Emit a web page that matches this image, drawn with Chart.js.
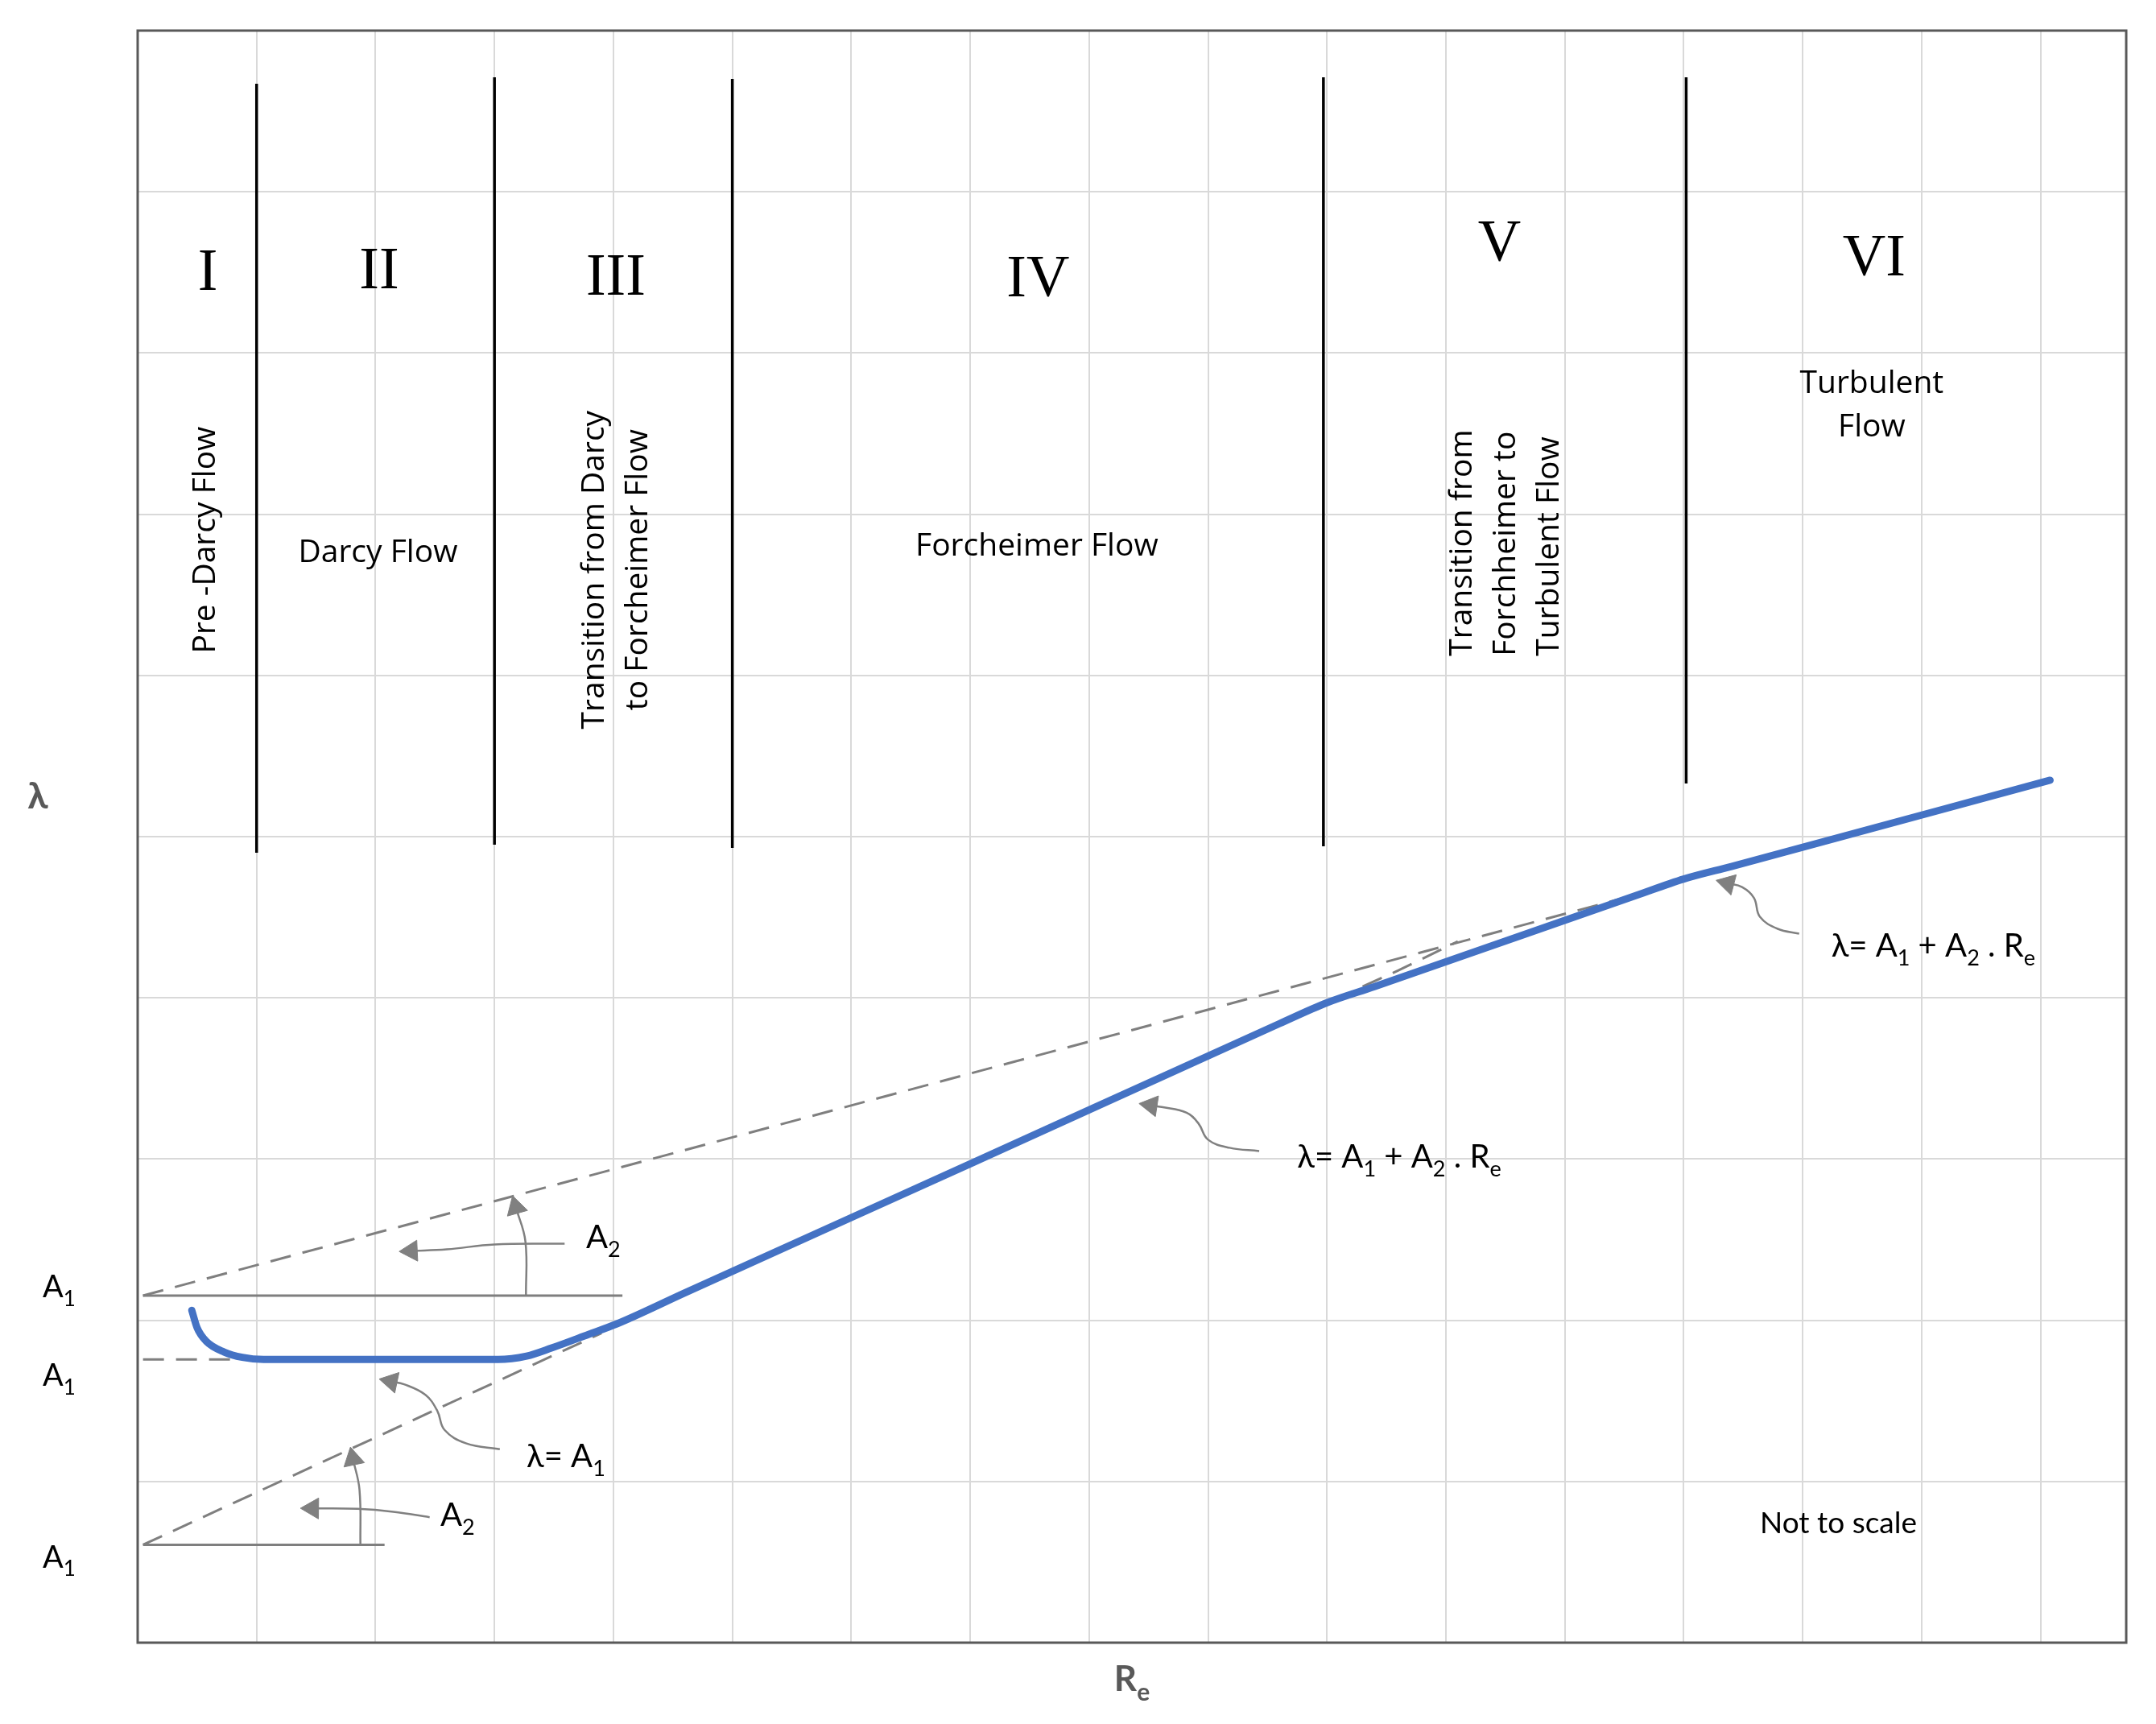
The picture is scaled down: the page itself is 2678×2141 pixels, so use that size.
<!DOCTYPE html>
<html>
<head>
<meta charset="utf-8">
<title>Flow regimes</title>
<script src="https://cdn.jsdelivr.net/npm/chart.js@4.4.1/dist/chart.umd.min.js"></script>
<style>
  html, body { margin: 0; padding: 0; background: #fff; }
  #wrap { width: 2678px; height: 2141px; }
</style>
</head>
<body>
<div id="wrap"><canvas id="regimeChart"></canvas></div>
<script>
// grid positions (no tick labels, the diagram is not to scale)
var xGrid = [0, 1, 2, 3, 4, 5, 6, 7, 8, 9, 10, 11, 12, 13, 14, 15, 16];
var yGrid = [0, 1, 2, 3, 4, 5, 6, 7, 8, 9, 10];
var xMax = 16.72;
var yMax = 10;

// lambda vs Re curve
var reValues     = [0.455, 0.50, 0.576, 0.727, 0.88, 1.06, 2.0, 3.03, 3.27, 3.48, 3.79, 4.03, 4.6, 7.03, 9.6, 10.0, 10.4, 12.6, 13.0, 13.4, 16.08];
var lambdaValues = [2.062, 1.953, 1.87, 1.803, 1.77, 1.757, 1.757, 1.757, 1.778, 1.828, 1.912, 1.978, 2.17, 2.98, 3.84, 3.97, 4.07, 4.635, 4.737, 4.815, 5.35];

// construction lines
var turbExtX = [0.045, 12.6],  turbExtY = [2.153, 4.64];
var forchExtX = [0.045, 3.9],  forchExtY = [0.607, 1.92];
var darcyDashX = [0.045, 0.85], darcyDashY = [1.757, 1.757];
var transDashX = [10.3, 10.6, 11.1], transDashY = [4.07, 4.17, 4.35];
var upperBaseX = [0.045, 4.076], upperBaseY = [2.153, 2.153];
var lowerBaseX = [0.045, 2.076], lowerBaseY = [0.607, 0.607];

// regime dividers
var dividerX      = [1.0, 3.0, 5.0, 9.97, 13.02];
var dividerBottom = [4.90, 4.95, 4.93, 4.94, 5.33];
var dividerTop    = [9.67, 9.71, 9.70, 9.71, 9.71];

// pointer arrows (tail first, head last)
var arrowA2UpperVert = [[3.265, 2.153], [3.26, 2.49], [3.18, 2.70]];
var arrowA2UpperHorz = [[3.59, 2.475], [3.0, 2.47], [2.6, 2.44], [2.30, 2.43]];
var arrowA2LowerVert = [[1.873, 0.607], [1.865, 0.95], [1.81, 1.14]];
var arrowA2LowerHorz = [[2.455, 0.778], [2.15, 0.812], [1.85, 0.83], [1.47, 0.833]];
var arrowDarcy       = [[3.045, 1.20], [2.76, 1.237], [2.58, 1.32], [2.52, 1.437], [2.42, 1.537], [2.24, 1.603], [2.13, 1.62]];
var arrowForch       = [[9.43, 3.05], [9.18, 3.07], [9.0, 3.12], [8.92, 3.22], [8.82, 3.287], [8.61, 3.323], [8.52, 3.333]];
var arrowTurb        = [[13.97, 4.398], [13.79, 4.428], [13.64, 4.503], [13.59, 4.62], [13.49, 4.687], [13.37, 4.71]];

// texts
var romanLabels = ['I', 'II', 'III', 'IV', 'V', 'VI'];
var regionNames = [
  ['Pre -Darcy Flow'],
  ['Darcy Flow'],
  ['Transition from Darcy', 'to Forcheimer Flow'],
  ['Forcheimer Flow'],
  ['Transition from', 'Forchheimer to', 'Turbulent Flow'],
  ['Turbulent', 'Flow']
];
var eqRuns = [['λ= A', 0], ['1', 1], [' + A', 0], ['2', 1], [' . R', 0], ['e', 1]];
var darcyEqRuns = [['λ= A', 0], ['1', 1]];
var a1Runs = [['A', 0], ['1', 1]];
var a2Runs = [['A', 0], ['2', 1]];
var reRuns = [['R', 0], ['e', 1]];
var noteText = 'Not to scale';
var yTitle = 'λ';

// where the texts sit (data units)
var romanAt = [[0.59, 8.49], [2.03, 8.50], [4.02, 8.46], [7.57, 8.45], [11.45, 8.67], [14.6, 8.58]];
var nameLayout = [
  { at: [0.575, 6.84], rotate: true, align: 'center' },
  { at: [2.02, 6.76], rotate: false, align: 'center' },
  { at: [4.03, 6.655], rotate: true, align: 'center' },
  { at: [7.56, 6.80], rotate: false, align: 'center' },
  { at: [11.51, 6.12], rotate: true, align: 'left' },
  { at: [14.58, 7.675], rotate: false, align: 'center' }
];

function pts(xs, ys) {
  return xs.map(function (x, i) { return { x: x, y: ys[i] }; });
}
function pairs(list) {
  return list.map(function (p) { return { x: p[0], y: p[1] }; });
}

function headAngle(c) {
  var d = c.chart.data.datasets[c.datasetIndex].data;
  var i = c.dataIndex;
  if (i === 0) return 0;
  var xs = c.chart.scales.x, ys = c.chart.scales.y;
  var dx = xs.getPixelForValue(d[i].x) - xs.getPixelForValue(d[i - 1].x);
  var dy = ys.getPixelForValue(d[i].y) - ys.getPixelForValue(d[i - 1].y);
  return Math.atan2(dx, -dy) * 180 / Math.PI;
}

function dashed(xs, ys) {
  return { data: pts(xs, ys), borderColor: '#7f7f7f', borderWidth: 3, borderDash: [26, 15], tension: 0 };
}
function solid(xs, ys, color, width) {
  return { data: pts(xs, ys), borderColor: color, borderWidth: width, tension: 0 };
}
function arrow(list) {
  var last = list.length - 1;
  return {
    data: pairs(list),
    borderColor: '#808080',
    borderWidth: 2.5,
    tension: 0.4,
    pointStyle: 'triangle',
    pointRadius: function (c) { return c.dataIndex === last ? 15 : 0; },
    pointRotation: headAngle,
    pointBackgroundColor: '#808080',
    pointBorderColor: '#808080',
    pointBorderWidth: 1
  };
}

var datasets = [
  {
    label: 'λ',
    data: pts(reValues, lambdaValues),
    borderColor: '#4472C4',
    borderWidth: 9,
    cubicInterpolationMode: 'monotone',
    borderCapStyle: 'round',
    borderJoinStyle: 'round'
  },
  dashed(turbExtX, turbExtY),
  dashed(forchExtX, forchExtY),
  dashed(darcyDashX, darcyDashY),
  dashed(transDashX, transDashY),
  solid(upperBaseX, upperBaseY, '#7f7f7f', 3),
  solid(lowerBaseX, lowerBaseY, '#7f7f7f', 3)
];
dividerX.forEach(function (x, i) {
  datasets.push(solid([x, x], [dividerBottom[i], dividerTop[i]], '#000000', 3.5));
});
[arrowA2UpperVert, arrowA2UpperHorz, arrowA2LowerVert, arrowA2LowerHorz, arrowDarcy, arrowForch, arrowTurb].forEach(function (a) {
  datasets.push(arrow(a));
});

function drawRuns(ctx, runs, x, yCenter, size, family, color, align, weight) {
  var sub = Math.round(size * 0.68);
  var w = weight ? weight + ' ' : '';
  var widths = runs.map(function (r) {
    ctx.font = w + (r[1] ? sub : size) + 'px ' + family;
    return ctx.measureText(r[0]).width;
  });
  var total = widths.reduce(function (a, b) { return a + b; }, 0);
  var cx = align === 'center' ? x - total / 2 : x;
  var base = yCenter + size * 0.36;
  ctx.fillStyle = color;
  ctx.textAlign = 'left';
  ctx.textBaseline = 'alphabetic';
  runs.forEach(function (r, i) {
    ctx.font = w + (r[1] ? sub : size) + 'px ' + family;
    ctx.fillText(r[0], cx, r[1] ? base + size * 0.28 : base);
    cx += widths[i];
  });
}

var framePlugin = {
  id: 'frame',
  beforeDatasetsDraw: function (chart) {
    var a = chart.chartArea, ctx = chart.ctx;
    ctx.save();
    ctx.strokeStyle = '#595959';
    ctx.lineWidth = 3;
    ctx.strokeRect(a.left, a.top, a.right - a.left, a.bottom - a.top);
    ctx.restore();
  }
};

var textPlugin = {
  id: 'regimeText',
  afterDatasetsDraw: function (chart) {
    var ctx = chart.ctx, xs = chart.scales.x, ys = chart.scales.y, area = chart.chartArea;
    function px(v) { return xs.getPixelForValue(v); }
    function py(v) { return ys.getPixelForValue(v); }
    var sans = 'Lato, "Open Sans", sans-serif';
    ctx.save();

    ctx.fillStyle = '#000';
    ctx.textAlign = 'center';
    ctx.textBaseline = 'middle';
    ctx.font = '74px "Liberation Serif"';
    romanLabels.forEach(function (t, i) {
      ctx.fillText(t, px(romanAt[i][0]), py(romanAt[i][1]));
    });

    ctx.font = '39px "Open Sans"';
    regionNames.forEach(function (lines, i) {
      var lay = nameLayout[i];
      var n = lines.length;
      ctx.save();
      ctx.translate(px(lay.at[0]), py(lay.at[1]));
      if (lay.rotate) ctx.rotate(-Math.PI / 2);
      ctx.textAlign = lay.align;
      ctx.textBaseline = 'middle';
      lines.forEach(function (line, j) {
        ctx.fillText(line, 0, (j - (n - 1) / 2) * 54);
      });
      ctx.restore();
    });

    drawRuns(ctx, eqRuns, px(9.75), py(3.02), 40, sans, '#000', 'left');
    drawRuns(ctx, eqRuns, px(14.24), py(4.33), 40, sans, '#000', 'left');
    drawRuns(ctx, darcyEqRuns, px(3.27), py(1.16), 40, sans, '#000', 'left');
    drawRuns(ctx, a2Runs, px(3.77), py(2.52), 40, sans, '#000', 'left');
    drawRuns(ctx, a2Runs, px(2.545), py(0.795), 40, sans, '#000', 'left');
    [2.21, 1.66, 0.535].forEach(function (v) {
      drawRuns(ctx, a1Runs, area.left - 118, py(v), 38, sans, '#000', 'left');
    });

    ctx.fillStyle = '#000';
    ctx.textAlign = 'center';
    ctx.textBaseline = 'middle';
    ctx.font = '37px ' + sans;
    ctx.fillText(noteText, px(14.3), py(0.74));

    // axis titles
    drawRuns(ctx, reRuns, (area.left + area.right) / 2, area.bottom + 44, 44, sans, '#595959', 'center', 'bold');
    ctx.fillStyle = '#595959';
    ctx.font = 'bold 46px ' + sans;
    ctx.textAlign = 'center';
    ctx.textBaseline = 'middle';
    ctx.fillText(yTitle, 47, py(5.25));

    ctx.restore();
  }
};

var ctx = document.getElementById('regimeChart').getContext('2d');
var regimeChart = new Chart(ctx, {
  type: 'line',
  data: { datasets: datasets },
  options: {
    responsive: true,
    maintainAspectRatio: false,
    devicePixelRatio: 1,
    animation: false,
    events: [],
    layout: { padding: { left: 171, top: 38, right: 37, bottom: 101 } },
    elements: { point: { radius: 0 } },
    plugins: { legend: { display: false }, tooltip: { enabled: false } },
    scales: {
      x: {
        type: 'linear',
        min: 0,
        max: xMax,
        afterBuildTicks: function (s) { s.ticks = xGrid.map(function (v) { return { value: v }; }); },
        ticks: { display: false },
        border: { display: false },
        grid: { color: '#d9d9d9', lineWidth: 2, drawTicks: false }
      },
      y: {
        type: 'linear',
        min: 0,
        max: yMax,
        afterBuildTicks: function (s) { s.ticks = yGrid.map(function (v) { return { value: v }; }); },
        ticks: { display: false },
        border: { display: false },
        grid: { color: '#d9d9d9', lineWidth: 2, drawTicks: false }
      }
    }
  },
  plugins: [framePlugin, textPlugin]
});
</script>
</body>
</html>
